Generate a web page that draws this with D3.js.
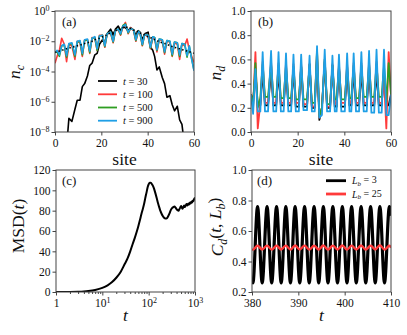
<!DOCTYPE html>
<html><head><meta charset="utf-8">
<script src="https://cdn.jsdelivr.net/npm/d3@7"></script>
<style>
body{margin:0;background:#fff}
svg{display:block}
svg text{font-family:'Liberation Serif','Times New Roman',Times,serif !important}
</style>
</head><body>
<svg id="chart" width="407" height="335"></svg>
<script>
// ---------- DATA ----------
// shared lattice positions for panels (a) and (b)
const sites = [0, 0.9,
  1.9, 2.9, 4.0, 5.0, 6.0, 7.3, 8.6, 9.6, 10.8, 11.8, 12.8, 14.0, 15.0, 16.0, 17.2,
  18.2, 19.2, 20.5, 21.5, 22.5, 24.0, 25.1, 26.1, 27.3, 28.3, 29.3, 30.4, 31.6, 32.6, 33.9,
  34.9, 35.9, 36.7, 37.7, 38.7, 40.2, 41.2, 42.2, 43.0, 44.0, 45.0, 46.3, 47.3, 48.3, 49.6,
  50.6, 51.6, 52.8, 53.8, 54.8, 56.0,
  57.0, 58.0, 59.0, 60.0];

// panel (a): log10 n_c
const ncT30 = [-10, -10,
  -10, -10, -10,  -9, -7.1, -7.3,  -6.5, -5.9, -5.9,  -5.0, -4.8, -4.3,  -3.6, -3.45, -2.9,
  -2.8, -2.2, -1.9,  -2.1, -1.5, -1.2,  -1.6, -1.2, -1.0,  -1.3, -1.05, -1.1,  -1.3, -1.1, -1.25,
  -1.6, -1.3, -1.4,  -1.9, -1.5, -1.4,  -2.4, -2.6, -3.0,  -3.9, -3.7, -4.4,  -4.8, -5.7, -5.6,
  -6.2, -6.6, -6.3,  -7.2, -7.5, -9,
  -10, -10, -10, -10];
const ncT100 = [-3.45, -3.0,
  -2.6, -1.8, -2.2,  -3.35, -2.2, -2.3,  -3.2, -2.0, -2.1,  -3.0, -1.9, -1.9,  -2.8, -1.75, -1.8,
  -2.6, -1.6, -1.6,  -2.4, -1.5, -1.45,  -2.1, -1.3, -1.25,  -1.6, -1.05, -0.75,  -1.5, -1.1, -1.3,
  -2.0, -1.4, -1.5,  -2.3, -1.55, -1.7,  -2.5, -1.75, -1.8,  -2.7, -1.9, -1.95,  -2.85, -2.0, -2.05,
  -3.0, -2.1, -2.2,  -3.2, -2.2, -2.3,
  -1.85, -2.6, -3.0, -3.4];
const ncT500 = [-2.7, -2.7,
  -3.0, -2.3, -2.25,  -3.05, -2.2, -2.15,  -3.0, -2.05, -2.0,  -2.9, -1.95, -1.9,  -2.75, -1.8, -1.75,
  -2.6, -1.65, -1.6,  -2.35, -1.5, -1.4,  -2.05, -1.3, -1.2,  -1.55, -0.95, -0.85,  -1.45, -1.15, -1.25,
  -1.95, -1.35, -1.45,  -2.25, -1.55, -1.6,  -2.45, -1.7, -1.75,  -2.6, -1.85, -1.9,  -2.75, -1.95, -2.0,
  -2.95, -2.05, -2.1,  -3.0, -2.15, -2.2,
  -3.05, -2.35, -3.15, -3.9];
const ncT900 = [-2.75, -2.6,
  -2.9, -2.3, -2.2,  -2.95, -2.15, -2.1,  -2.9, -2.0, -1.95,  -2.8, -1.9, -1.85,  -2.65, -1.8, -1.7,
  -2.5, -1.65, -1.6,  -2.3, -1.5, -1.4,  -2.0, -1.3, -1.2,  -1.5, -1.0, -0.9,  -1.4, -1.15, -1.25,
  -1.9, -1.35, -1.45,  -2.2, -1.55, -1.6,  -2.4, -1.7, -1.75,  -2.55, -1.85, -1.9,  -2.7, -1.95, -2.0,
  -2.85, -2.05, -2.1,  -2.9, -2.15, -2.2,
  -2.95, -2.3, -3.2, -3.95];
const ncAvg = [-2.75, -2.7,
  -2.65, -2.6, -2.55,  -2.5, -2.45, -2.4,  -2.35, -2.3, -2.25,  -2.2, -2.15, -2.1,  -2.05, -2.0, -1.9,
  -1.85, -1.8, -1.7,  -1.65, -1.55, -1.45,  -1.4, -1.3, -1.2,  -1.15, -1.1, -1.05,  -1.1, -1.15, -1.25,
  -1.3, -1.4, -1.45,  -1.5, -1.6, -1.7,  -1.75, -1.85, -1.9,  -1.95, -2.05, -2.1,  -2.15, -2.2, -2.3,
  -2.35, -2.4, -2.45,  -2.5, -2.55, -2.6,
  -2.65, -2.7, -2.75, -2.8];

// panel (b): n_d
const ndT30 = [0.31, 0.25,
  0.5, 0.22, 0.22,  0.5, 0.22, 0.22,  0.5, 0.22, 0.22,  0.5, 0.22, 0.22,  0.5, 0.22, 0.22,
  0.52, 0.21, 0.21,  0.54, 0.21, 0.21,  0.56, 0.2, 0.2,  0.62, 0.1, 0.2,  0.58, 0.2, 0.2,
  0.55, 0.21, 0.21,  0.53, 0.21, 0.21,  0.5, 0.22, 0.22,  0.5, 0.22, 0.22,  0.5, 0.22, 0.22,
  0.5, 0.22, 0.22,  0.5, 0.22, 0.22,
  0.5, 0.22, 0.22, 0.31];
const ndT100 = [0.31, 0.2,
  0.66, 0.03, 0.24,  0.58, 0.24, 0.24,  0.58, 0.24, 0.24,  0.57, 0.24, 0.24,  0.57, 0.24, 0.24,
  0.56, 0.24, 0.24,  0.56, 0.23, 0.23,  0.56, 0.21, 0.21,  0.66, 0.12, 0.2,  0.6, 0.21, 0.21,
  0.56, 0.23, 0.23,  0.56, 0.24, 0.24,  0.56, 0.24, 0.24,  0.57, 0.24, 0.24,  0.57, 0.24, 0.24,
  0.58, 0.24, 0.24,  0.58, 0.24, 0.24,
  0.45, 0.03, 0.66, 0.31];
const ndT500 = [0.31, 0.22,
  0.57, 0.2, 0.28,  0.56, 0.29, 0.29,  0.56, 0.29, 0.29,  0.55, 0.28, 0.28,  0.55, 0.28, 0.28,
  0.54, 0.27, 0.27,  0.54, 0.27, 0.27,  0.55, 0.24, 0.24,  0.68, 0.13, 0.2,  0.6, 0.23, 0.23,
  0.55, 0.27, 0.27,  0.54, 0.27, 0.27,  0.54, 0.28, 0.28,  0.55, 0.28, 0.28,  0.55, 0.29, 0.29,
  0.56, 0.29, 0.29,  0.56, 0.29, 0.29,
  0.55, 0.25, 0.57, 0.31];
const ndT900 = [0.31, 0.15,
  0.52, 0.17, 0.17,  0.66, 0.17, 0.17,  0.67, 0.17, 0.17,  0.66, 0.17, 0.17,  0.65, 0.17, 0.17,
  0.64, 0.17, 0.17,  0.64, 0.18, 0.18,  0.63, 0.17, 0.17,  0.71, 0.12, 0.14,  0.68, 0.17, 0.17,
  0.63, 0.17, 0.17,  0.64, 0.17, 0.17,  0.65, 0.17, 0.17,  0.65, 0.17, 0.17,  0.66, 0.17, 0.17,
  0.67, 0.16, 0.16,  0.68, 0.16, 0.16,
  0.68, 0.14, 0.14, 0.31];

// panel (c): MSD(t)
const msdT = [1, 1.5, 2, 3, 4, 5, 7, 10, 13, 16, 20, 25, 30, 35, 40, 45, 50, 55, 60, 65, 70, 75, 80, 85, 90, 95,
  100, 105, 110, 120, 130, 140, 150, 160, 170, 180, 190, 200, 215, 230, 245, 260, 280, 300, 320, 340, 360, 380,
  400, 420, 440, 460, 480, 500, 520, 540, 560, 580, 600, 630, 660, 690, 720, 750, 780, 810, 840, 870, 900, 930, 960, 1000];
const msdV = [0, 0.05, 0.1, 0.3, 0.6, 1.0, 2.0, 4.0, 6.5, 9.5, 14, 20, 27, 33, 40, 47, 53, 59, 65, 71, 77, 82, 87, 93, 98, 103,
  106, 107.5, 107.5, 105.5, 102, 97, 92, 87, 83, 79.5, 77, 75, 73, 72.2, 72.5, 74, 77, 80.5, 82.5, 83.5, 84, 83,
  81.5, 80.5, 80, 81.5, 83, 84.5, 83, 82, 83.5, 85, 83.5, 85, 86.5, 85, 87, 86, 88, 87, 89, 88, 90, 89.5, 91.5, 93];

// panel (d): C_d(t, L_b)
const cdT = [380.0, 380.2, 381.2, 382.2, 383.25, 384.25, 385.3, 386.3, 387.3, 388.3, 389.3, 390.3, 391.35, 392.35,
  393.4, 394.4, 395.4, 396.4, 397.45, 398.45, 399.5, 400.5, 401.5, 402.5, 403.55, 404.55, 405.6, 406.6, 407.6, 408.6, 409.65, 410.0];
const cdLb3 = [0.28, 0.26, 0.76, 0.26, 0.76, 0.26, 0.76, 0.26, 0.76, 0.26, 0.76, 0.26, 0.76, 0.26,
  0.76, 0.26, 0.76, 0.26, 0.76, 0.26, 0.76, 0.26, 0.76, 0.26, 0.76, 0.26, 0.76, 0.26, 0.76, 0.26, 0.76, 0.70];
const cdLb25 = [0.48, 0.478, 0.503, 0.479, 0.504, 0.478, 0.503, 0.479, 0.504, 0.478, 0.505, 0.479, 0.504, 0.478,
  0.503, 0.479, 0.505, 0.478, 0.504, 0.479, 0.505, 0.478, 0.504, 0.479, 0.505, 0.478, 0.504, 0.479, 0.507, 0.478, 0.503, 0.49];

// tick values
const siteTicks = [0, 20, 40, 60];
const ncTicks = [-8, -6, -4, -2, 0];
const ndTicks = [0, 0.2, 0.4, 0.6, 0.8, 1.0];
const msdXTicks = [1, 10, 100, 1000];
const msdYTicks = [0, 20, 40, 60, 80, 100, 120];
const cdXTicks = [380, 390, 400, 410];
const cdYTicks = [0.2, 0.4, 0.6, 0.8, 1.0];

const tLabels = ["30", "100", "500", "900"];
const lbLabels = ["3", "25"];

// ---------- STYLE ----------
const C = {black: "#000000", red: "#ff3a3a", green: "#2f9e22", blue: "#1f9fe6"};
const AX = "#444";
const svg = d3.select("#chart");

function makePanel(id, b) {
  const g = svg.append("g");
  g.append("clipPath").attr("id", "clip" + id).append("rect")
    .attr("x", b.x0).attr("y", b.y0).attr("width", b.x1 - b.x0).attr("height", b.y1 - b.y0);
  const plot = g.append("g").attr("clip-path", `url(#clip${id})`);
  return {g, plot};
}
function styleAxis(a) {
  a.attr("font-family", null);
  a.select(".domain").remove();
  a.selectAll(".tick line").attr("stroke", AX).attr("stroke-width", 1);
  a.selectAll(".tick text").attr("font-size", 11.5).attr("fill", "#111");
}
function supText(a, fn) {
  a.selectAll(".tick text").each(function(d) {
    const t = d3.select(this); t.text(null);
    const [base, exp] = fn(d);
    t.append("tspan").text(base);
    if (exp !== null) t.append("tspan").attr("dy", "-0.5em").attr("font-size", "8px").text(exp);
  });
}
function frame(g, b) {
  g.append("rect").attr("x", b.x0).attr("y", b.y0).attr("width", b.x1 - b.x0).attr("height", b.y1 - b.y0)
    .attr("fill", "none").attr("stroke", AX).attr("stroke-width", 1);
}
function label(txt, x, y, opts = {}) {
  return svg.append("text").attr("x", x).attr("y", y)
    .attr("font-size", opts.size || 17.5).attr("fill", "#111")
    .attr("text-anchor", opts.anchor || "middle").text(txt);
}
function rotLabel(parts, x, y) {
  const t = svg.append("text").attr("transform", `translate(${x},${y}) rotate(-90)`)
    .attr("font-size", 17.5).attr("fill", "#111").attr("text-anchor", "middle");
  parts.forEach(p => {
    const s = t.append("tspan").text(p.t);
    if (p.i) s.attr("font-style", "italic");
    if (p.sub) s.attr("font-size", "12px").attr("dy", p.dy);
    else if (p.dy) s.attr("dy", p.dy);
  });
  return t;
}
function panelTag(txt, x, y) {
  svg.append("text").attr("x", x).attr("y", y).attr("font-size", 13)
    .attr("fill", "#111").text(txt);
}

// ---------- PANEL (a) ----------
const bA = {x0: 55, x1: 194, y0: 11, y1: 132};
const pA = makePanel("a", bA);
const xA = d3.scaleLinear().domain([0, 60]).range([bA.x0, bA.x1]);
const yA = d3.scaleLog().domain([1e-8, 1]).range([bA.y1, bA.y0]);
const lineA = d3.line().x((d, i) => xA(sites[i])).y(d => yA(Math.pow(10, d)));
[[ncT30, C.black], [ncT100, C.red], [ncT500, C.green], [ncT900, C.blue]].forEach(([s, c]) => {
  pA.plot.append("path").attr("d", lineA(s)).attr("fill", "none").attr("stroke", c)
    .attr("stroke-width", 1.6).attr("stroke-linejoin", "round");
});
pA.plot.append("path").attr("d", lineA(ncAvg)).attr("fill", "none").attr("stroke", "#000")
  .attr("stroke-width", 1.6).attr("stroke-dasharray", "1.4,2.4");
frame(pA.g, bA);
const axA = pA.g.append("g").attr("transform", `translate(0,${bA.y1})`)
  .call(d3.axisBottom(xA).tickValues(siteTicks).tickSize(3.5).tickPadding(3.3).tickFormat(d3.format("d")));
styleAxis(axA);
const ayA = pA.g.append("g").attr("transform", `translate(${bA.x0},0)`)
  .call(d3.axisLeft(yA).tickValues(ncTicks.map(e => Math.pow(10, e))).tickSize(3.5).tickPadding(2));
styleAxis(ayA);
supText(ayA, d => ["10", String(Math.round(Math.log10(d))).replace("-", "\u2212")]);
// legend (a)
const legCols = [C.black, C.red, C.green, C.blue];
const legY = [81, 94.3, 107.5, 120.7];
tLabels.forEach((lab, i) => {
  svg.append("line").attr("x1", 98).attr("x2", 117).attr("y1", legY[i]).attr("y2", legY[i])
    .attr("stroke", legCols[i]).attr("stroke-width", 1.8);
  const t = svg.append("text").attr("x", 123).attr("y", legY[i] + 3.5)
    .attr("font-size", 10.5).attr("fill", "#111");
  t.append("tspan").attr("font-style", "italic").text("t");
  t.append("tspan").text(" = " + lab);
});
panelTag("(a)", 62, 26);
label("site", (bA.x0 + bA.x1) / 2, 165);
rotLabel([{t: "n", i: true}, {t: "c", i: true, sub: true, dy: "0.3em"}], 20, 72);

// ---------- PANEL (b) ----------
const bB = {x0: 251, x1: 391, y0: 11, y1: 132};
const pB = makePanel("b", bB);
const xB = d3.scaleLinear().domain([0, 60]).range([bB.x0, bB.x1]);
const yB = d3.scaleLinear().domain([0, 1]).range([bB.y1, bB.y0]);
const lineB = d3.line().x((d, i) => xB(sites[i])).y(d => yB(d));
[[ndT30, C.black], [ndT100, C.red], [ndT500, C.green], [ndT900, C.blue]].forEach(([s, c]) => {
  pB.plot.append("path").attr("d", lineB(s)).attr("fill", "none").attr("stroke", c)
    .attr("stroke-width", 1.8).attr("stroke-linejoin", "round");
});
frame(pB.g, bB);
styleAxis(pB.g.append("g").attr("transform", `translate(0,${bB.y1})`)
  .call(d3.axisBottom(xB).tickValues(siteTicks).tickSize(3.5).tickPadding(3.3).tickFormat(d3.format("d"))));
styleAxis(pB.g.append("g").attr("transform", `translate(${bB.x0},0)`)
  .call(d3.axisLeft(yB).tickValues(ndTicks).tickSize(3.5).tickPadding(2).tickFormat(d3.format(".1f"))));
panelTag("(b)", 258, 26);
label("site", (bB.x0 + bB.x1) / 2, 165);
rotLabel([{t: "n", i: true}, {t: "d", i: true, sub: true, dy: "0.3em"}], 221, 73);

// ---------- PANEL (c) ----------
const bC = {x0: 56, x1: 195, y0: 170, y1: 292};
const pC = makePanel("c", bC);
const xC = d3.scaleLog().domain([1, 1000]).range([bC.x0, bC.x1]);
const yC = d3.scaleLinear().domain([0, 120]).range([bC.y1, bC.y0]);
const lineC = d3.line().x((d, i) => xC(msdT[i])).y(d => yC(d)).curve(d3.curveMonotoneX);
pC.plot.append("path").attr("d", lineC(msdV)).attr("fill", "none").attr("stroke", "#000")
  .attr("stroke-width", 2).attr("stroke-linejoin", "round");
frame(pC.g, bC);
const minorC = [];
[1, 10, 100].forEach(dec => { for (let k = 2; k <= 9; k++) minorC.push(dec * k); });
styleAxis(pC.g.append("g").attr("transform", `translate(0,${bC.y1})`)
  .call(d3.axisBottom(xC).tickValues(minorC).tickSize(2).tickFormat("")));
const axC = pC.g.append("g").attr("transform", `translate(0,${bC.y1})`)
  .call(d3.axisBottom(xC).tickValues(msdXTicks).tickSize(3.5).tickPadding(3.3));
styleAxis(axC);
supText(axC, d => d === 1 ? ["1", null] : ["10", String(Math.round(Math.log10(d)))]);
styleAxis(pC.g.append("g").attr("transform", `translate(${bC.x0},0)`)
  .call(d3.axisLeft(yC).tickValues(msdYTicks).tickSize(3.5).tickPadding(2).tickFormat(d3.format("d"))));
panelTag("(c)", 62, 185);
const tl = label("", (bC.x0 + bC.x1) / 2, 321);
tl.append("tspan").attr("font-style", "italic").text("t");
rotLabel([{t: "MSD("}, {t: "t", i: true}, {t: ")"}], 24, 226);

// ---------- PANEL (d) ----------
const bD = {x0: 252, x1: 391, y0: 170, y1: 292};
const pD = makePanel("d", bD);
const xD = d3.scaleLinear().domain([380, 410]).range([bD.x0, bD.x1]);
const yD = d3.scaleLinear().domain([0.2, 1.0]).range([bD.y1, bD.y0]);
const lineD = d3.line().x((d, i) => xD(cdT[i])).y(d => yD(d)).curve(d3.curveMonotoneX);
pD.plot.append("path").attr("d", lineD(cdLb3)).attr("fill", "none").attr("stroke", C.black)
  .attr("stroke-width", 3.2).attr("stroke-linejoin", "round");
pD.plot.append("path").attr("d", lineD(cdLb25)).attr("fill", "none").attr("stroke", C.red)
  .attr("stroke-width", 2.4).attr("stroke-linejoin", "round");
frame(pD.g, bD);
styleAxis(pD.g.append("g").attr("transform", `translate(0,${bD.y1})`)
  .call(d3.axisBottom(xD).tickValues(cdXTicks).tickSize(3.5).tickPadding(3.3).tickFormat(d3.format("d"))));
styleAxis(pD.g.append("g").attr("transform", `translate(${bD.x0},0)`)
  .call(d3.axisLeft(yD).tickValues(cdYTicks).tickSize(3.5).tickPadding(2).tickFormat(d3.format(".1f"))));
panelTag("(d)", 257, 185);
const tl2 = label("", (bD.x0 + bD.x1) / 2, 321);
tl2.append("tspan").attr("font-style", "italic").text("t");
rotLabel([{t: "C", i: true}, {t: "d", i: true, sub: true, dy: "0.3em"}, {t: "(", dy: "-0.3em"},
  {t: "t", i: true}, {t: ", "}, {t: "L", i: true}, {t: "b", i: true, sub: true, dy: "0.3em"}, {t: ")", dy: "-0.3em"}], 223, 227);
// legend (d)
const lbCols = [C.black, C.red];
const lbY = [180.7, 194];
lbLabels.forEach((lab, i) => {
  svg.append("line").attr("x1", 326).attr("x2", 346).attr("y1", lbY[i]).attr("y2", lbY[i])
    .attr("stroke", lbCols[i]).attr("stroke-width", 2.8);
  const t = svg.append("text").attr("x", 352).attr("y", lbY[i] + 3.5)
    .attr("font-size", 10).attr("fill", "#111");
  t.append("tspan").attr("font-style", "italic").text("L");
  t.append("tspan").attr("font-style", "italic").attr("font-size", "7px").attr("dy", "0.25em").text("b");
  t.append("tspan").attr("dy", "-0.25em").text(" = " + lab);
});
</script>
</body></html>
